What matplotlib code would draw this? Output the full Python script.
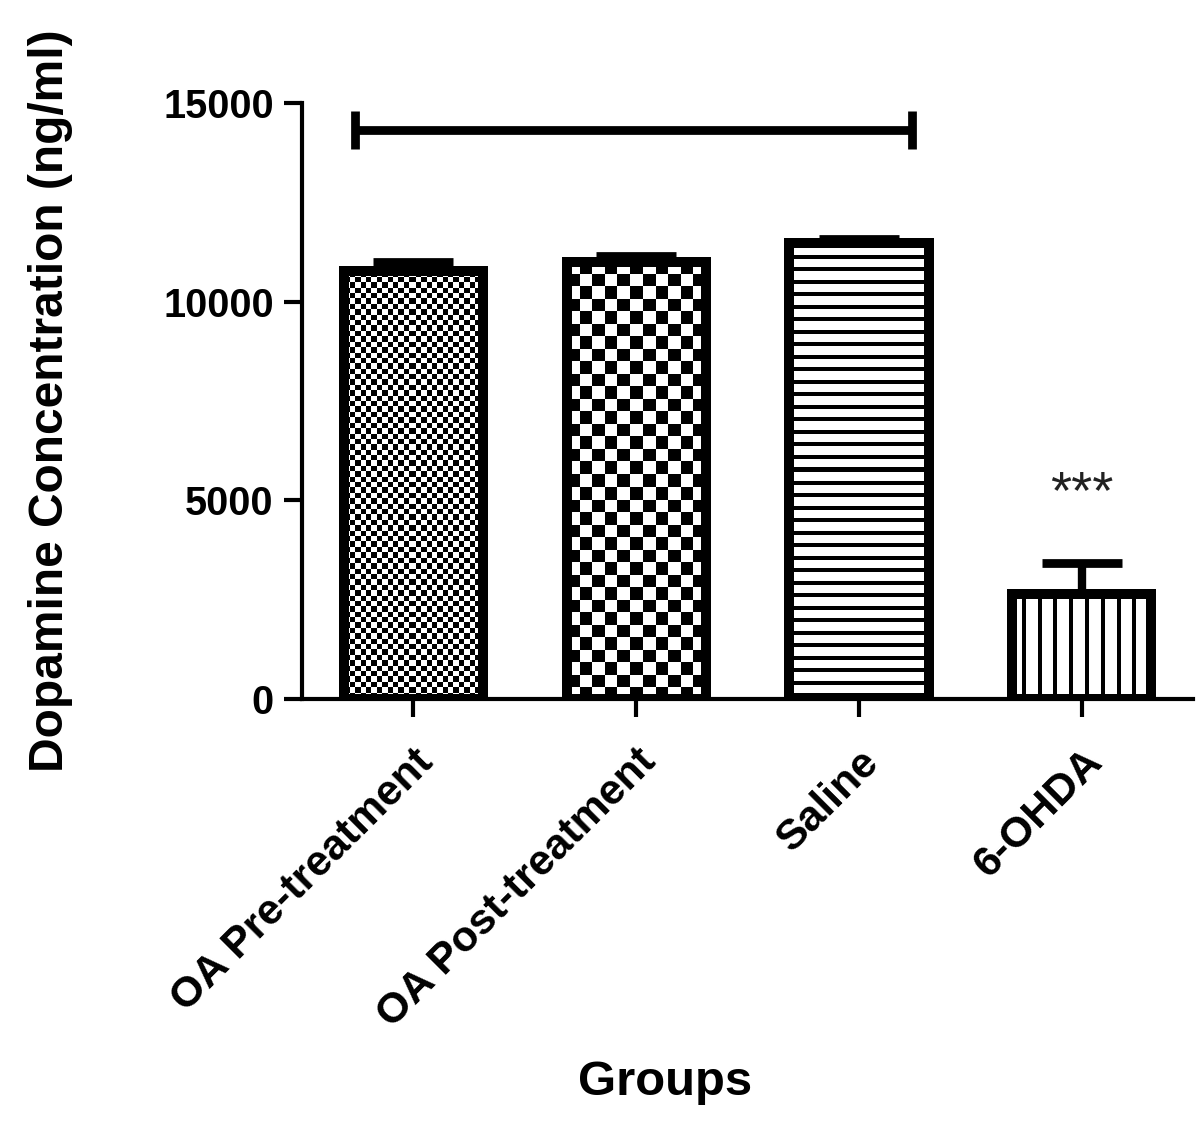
import numpy as np
import matplotlib
matplotlib.use("Agg")
import matplotlib.pyplot as plt

categories = ["OA Pre-treatment", "OA Post-treatment", "Saline", "6-OHDA"]
means = [10770, 11000, 11480, 2640]
errors = [230, 150, 100, 770]
yticks = [0, 5000, 10000, 15000]
bracket_y = 14320
bracket_span = (0, 2)
star_text = "***"

plt.rcParams['font.family'] = ['Liberation Sans', 'DejaVu Sans']

DPI = 150
fig = plt.figure(figsize=(8, 7.5), dpi=DPI)
ax = fig.add_axes([0.2517, 0.3787, 0.7425, 0.5297])

x = np.arange(len(categories))
bars = ax.bar(x, means, width=0.625, facecolor='none', edgecolor='black',
              linewidth=4.8, zorder=3)
ax.errorbar(x, means, yerr=[np.zeros(len(errors)), errors], fmt='none',
            ecolor='black', elinewidth=4.0, capsize=19, capthick=4.2, zorder=4)

ax.set_xlim(-0.5, 3.5)
ax.set_ylim(0, 15000)

# pattern fills (pixel-level images clipped to each bar)
fig_w_px = fig.get_figwidth() * DPI
fig_h_px = fig.get_figheight() * DPI
ax_pos = ax.get_position()
px_per_x = ax_pos.width * fig_w_px / 4.0
px_per_y = ax_pos.height * fig_h_px / 15000.0

def pattern(kind, h, w):
    yy, xx = np.mgrid[0:h, 0:w]
    if kind == 'check_fine':
        s = 5.4
        return ((np.floor(yy / s) + np.floor(xx / s)) % 2)
    if kind == 'check_coarse':
        s = 12.5
        return ((np.floor(yy / s) + np.floor(xx / s)) % 2)
    if kind == 'hlines':
        return ((yy % 12.5) < 4).astype(float)
    if kind == 'vlines':
        return (((xx + 6) % 15.6) < 4).astype(float)

kinds = ['check_fine', 'check_coarse', 'hlines', 'vlines']
for b, k in zip(bars, kinds):
    x0 = b.get_x()
    w = b.get_width()
    h = b.get_height()
    wpx = int(round(w * px_per_x))
    hpx = int(round(h * px_per_y))
    img = pattern(k, hpx, wpx)
    im = ax.imshow(img, cmap='gray_r', vmin=0, vmax=1, extent=(x0, x0 + w, 0, h),
                   origin='upper', interpolation='nearest', aspect='auto', zorder=2)
    im.set_clip_path(b)

ax.set_xlim(-0.5, 3.5)
ax.set_ylim(0, 15000)

# significance bracket
ax.plot([bracket_span[0] - 0.26, bracket_span[1] + 0.24], [bracket_y, bracket_y],
        color='black', lw=4.2, solid_capstyle='butt', zorder=5)
for xe in (bracket_span[0] - 0.26, bracket_span[1] + 0.24):
    ax.plot([xe, xe], [bracket_y - 470, bracket_y + 470], color='black', lw=4.2,
            solid_capstyle='butt', zorder=5)

ax.text(3, 5150, star_text, ha='center', va='center', fontsize=26, color='#222222')

# spines and ticks
for s in ['top', 'right']:
    ax.spines[s].set_visible(False)
ax.spines['left'].set_linewidth(2.0)
ax.spines['bottom'].set_linewidth(2.0)
ax.spines['bottom'].set_bounds(-0.5, 3.5)
ax.set_yticks(yticks)
ax.set_yticklabels([str(v) for v in yticks], fontsize=19, fontweight='bold')
ax.set_xticks(x)
ax.set_xticklabels(categories, fontsize=20.5, fontweight='bold', rotation=45,
                   ha='right', va='top', rotation_mode='anchor')
ax.tick_params(axis='both', length=8.6, width=2.0, pad=5)
ax.tick_params(axis='x', pad=12)

ax.set_ylabel("Dopamine Concentration (ng/ml)", fontsize=23, fontweight='bold')
ax.yaxis.set_label_coords((50 - 302) / 891, 0.5)
ax.set_xlabel("Groups", fontsize=23.5, fontweight='bold')
ax.xaxis.set_label_coords((665 - 302) / 891, -0.643)
ax.xaxis.label.set_va('center')
ax.yaxis.label.set_va('center')

fig.savefig("out.png", dpi=DPI, facecolor='white')
